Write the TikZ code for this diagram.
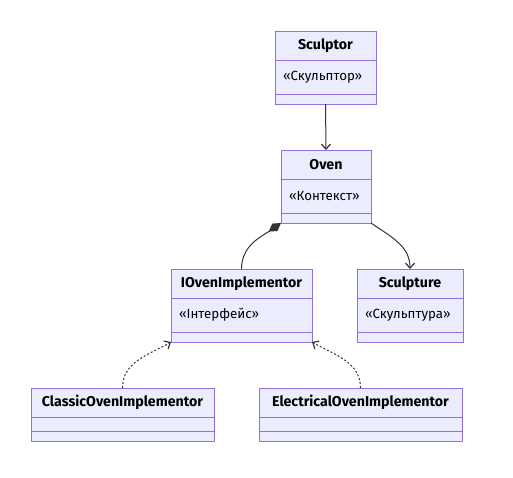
\documentclass[tikz,border=0pt]{standalone}
\usepackage{fontspec}
\setmainfont{Fira Sans}
\usetikzlibrary{positioning,arrows.meta}
\definecolor{classfill}{HTML}{ECECFF}
\definecolor{classline}{HTML}{9370DB}
\definecolor{edgegray}{HTML}{333333}
\begin{document}
\begin{tikzpicture}[x=1pt,y=1pt,
  head/.style={draw=classline,fill=classfill,line width=1pt,minimum height=29pt,inner sep=0pt,outer sep=0pt,font=\bfseries\fontsize{14.2}{16}\selectfont},
  stereo/.style={draw=classline,fill=classfill,line width=1pt,minimum height=34pt,inner xsep=8pt,inner ysep=0pt,outer sep=0pt,align=left,font=\fontsize{13.3}{15}\selectfont},
  foot/.style={draw=classline,fill=classfill,line width=1pt,minimum height=10pt,inner sep=0pt,outer sep=0pt},
  link/.style={draw=edgegray,line width=1pt},
  tip/.style={-{Straight Barb[length=5pt,width=9pt,line width=1.2pt]}},
  dep/.style={link,tip,dash pattern=on 2pt off 2pt}]
				\useasboundingbox (0,0) rectangle (513,-477);
				% classes
				\node[head,minimum width=101pt,anchor=north] (sculptor) at (325.5,-31) {Sculptor};
				\node[stereo,text width=85pt,below=0pt of sculptor] (sculptor-s) {«Скульптор»};
				\node[foot,minimum width=101pt,below=0pt of sculptor-s] (sculptor-f) {};
				\node[head,minimum width=90pt,anchor=north] (oven) at (326,-150) {Oven};
				\node[stereo,text width=74pt,below=0pt of oven] (oven-s) {«Контекст»};
				\node[foot,minimum width=90pt,below=0pt of oven-s] (oven-f) {};
				\node[head,minimum width=141pt,anchor=north] (ioven) at (241.5,-269) {IOvenImplementor};
				\node[stereo,text width=125pt,below=0pt of ioven] (ioven-s) {«Інтерфейс»};
				\node[foot,minimum width=141pt,below=0pt of ioven-s] (ioven-f) {};
				\node[head,minimum width=106pt,anchor=north] (sculpture) at (410,-269) {Sculpture};
				\node[stereo,text width=90pt,below=0pt of sculpture] (sculpture-s) {«Скульптура»};
				\node[foot,minimum width=106pt,below=0pt of sculpture-s] (sculpture-f) {};
				\node[head,minimum width=183pt,anchor=north] (classic) at (122.5,-388) {ClassicOvenImplementor};
				\node[foot,minimum width=183pt,minimum height=14pt,below=0pt of classic] (classic-s) {};
				\node[foot,minimum width=183pt,below=0pt of classic-s] (classic-f) {};
				\node[head,minimum width=203pt,anchor=north] (electrical) at (360.5,-388) {ElectricalOvenImplementor};
				\node[foot,minimum width=203pt,minimum height=14pt,below=0pt of electrical] (electrical-s) {};
				\node[foot,minimum width=203pt,below=0pt of electrical-s] (electrical-f) {};
				% relations
				\draw[link,tip] (sculptor-f.south) -- (oven.north);
				\draw[link,{Diamond[length=15pt,width=9pt]}-] (oven-f.south west) to[out=-145,in=90] (ioven.north);
				\draw[link,tip] (oven-f.south east) to[out=-35,in=90] (sculpture.north);
				\draw[dep] (classic.north) to[out=90,in=-150] (ioven-f.south west);
				\draw[dep] (electrical.north) to[out=90,in=-30] (ioven-f.south east);
			\end{tikzpicture}
\end{document}
